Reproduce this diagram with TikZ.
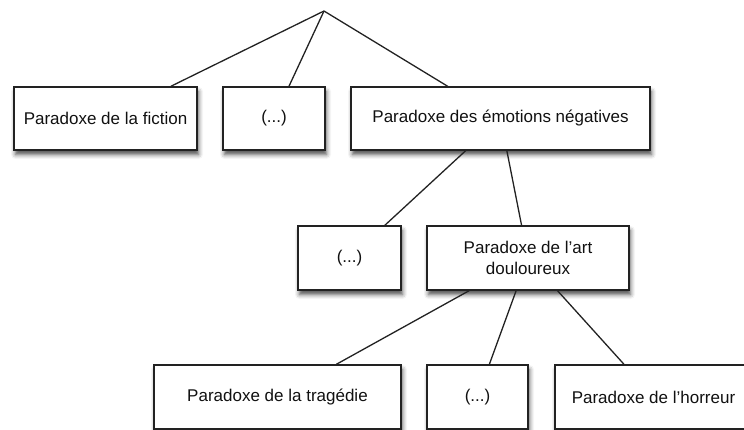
\documentclass[tikz,border=0pt]{standalone}
\usepackage{fontspec}
\setmainfont{Liberation Sans}
\usetikzlibrary{shadows.blur}
\definecolor{txt}{HTML}{111111}
\definecolor{edge}{HTML}{222222}
\tikzset{
  box/.style={draw=edge, line width=1.4pt, fill=white, inner sep=0pt,
    minimum height=63pt, align=center, text=txt,
    font=\fontsize{17}{21.5}\selectfont,
    blur shadow={shadow xshift=1.5pt, shadow yshift=-4.5pt, shadow blur radius=4.5pt, shadow opacity=70}},
  link/.style={draw=edge, line width=1.3pt}
}
\begin{document}
\begin{tikzpicture}[x=1pt,y=-1pt]
\useasboundingbox (0,0) rectangle (744,430);
\clip (0,0) rectangle (744,430);
\coordinate (root) at (324,11);
% row 1
\node[box, minimum width=183pt] (fiction) at (105.5,118.5) {Paradoxe de la fiction};
\node[box, minimum width=102pt] (dotsa) at (274,118.5) {(...)};
\node[box, minimum width=299pt] (emo) at (500.5,118.5) {Paradoxe des émotions négatives};
% row 2
\node[box, minimum width=103pt, minimum height=64pt] (dotsb) at (349.5,258) {(...)};
\node[box, minimum width=202pt, minimum height=64pt] (art) at (528,258) {Paradoxe de l’art\\douloureux};
% row 3
\node[box, minimum width=247pt, minimum height=64pt] (trag) at (277.5,397) {Paradoxe de la tragédie};
\node[box, minimum width=101pt, minimum height=64pt] (dotsc) at (477.5,397) {(...)};
\node[box, minimum width=197pt, minimum height=64pt] (horr) at (653.5,397) {Paradoxe de l’horreur};
% connectors
\draw[link] (root) -- (fiction);
\draw[link] (root) -- (dotsa);
\draw[link] (root) -- (emo);
\draw[link] (emo) -- (dotsb);
\draw[link] (emo) -- (art);
\draw[link] (art) -- (trag);
\draw[link] (art) -- (dotsc);
\draw[link] (art) -- (horr);
\end{tikzpicture}
\end{document}
